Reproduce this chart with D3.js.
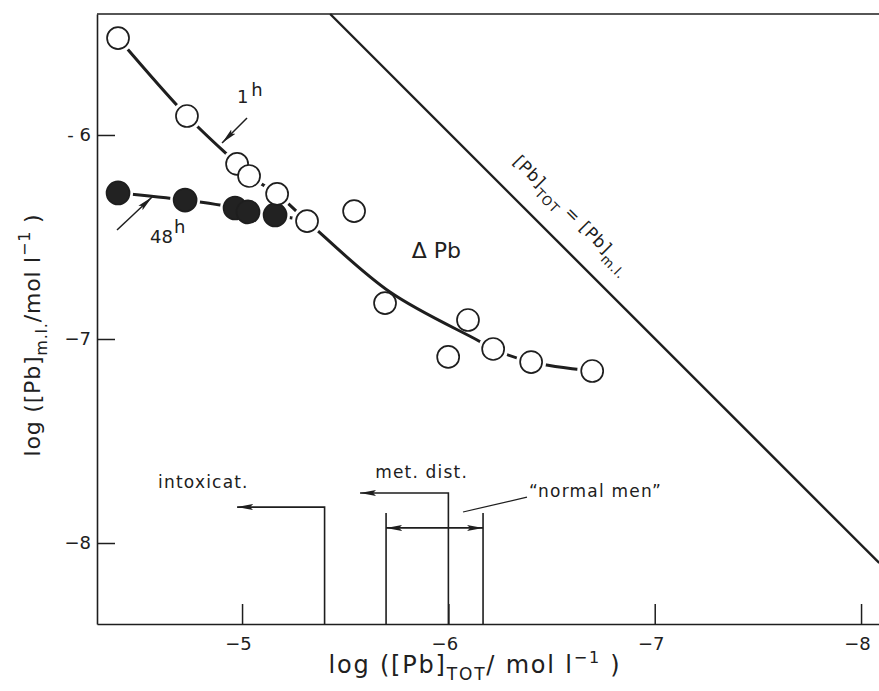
<!DOCTYPE html>
<html><head><meta charset="utf-8">
<script src="https://cdn.jsdelivr.net/npm/d3@7"></script>
<style>
body{margin:0;background:#fff}
text{font-family:"DejaVu Sans",sans-serif;fill:#202020}
</style>
</head><body>
<svg id="chart" width="879" height="691"></svg>
<script>
// ---- data ----
const xTicks = [-5, -6, -7, -8];
const xTickLabels = ["\u22125", "\u22126", "\u22127", "\u22128"];
const yTicks = [-6, -7, -8];
const yTickLabels = ["- 6", "\u22127", "\u22128"];

// 1 h (open circles)
const open1hX = [-4.399, -4.733, -4.976, -5.034, -5.170, -5.315, -5.543, -5.693, -6.095, -5.999, -6.217, -6.401, -6.697];
const open1hY = [-5.525, -5.907, -6.142, -6.201, -6.289, -6.422, -6.373, -6.824, -6.907, -7.088, -7.049, -7.113, -7.157];
// 48 h (filled circles)
const filled48hX = [-4.399, -4.724, -4.966, -5.029, -5.160];
const filled48hY = [-6.284, -6.319, -6.358, -6.377, -6.392];

// hand-drawn fit curves
const fit1hX = [-4.399, -4.733, -4.976, -5.034, -5.170, -5.315, -5.717, -6.139, -6.217, -6.401, -6.697];
const fit1hY = [-5.525, -5.907, -6.142, -6.201, -6.289, -6.422, -6.770, -7.005, -7.049, -7.113, -7.157];
const fit48hX = [-4.399, -4.724, -4.966, -5.029, -5.160, -5.315];
const fit48hY = [-6.284, -6.319, -6.358, -6.377, -6.392, -6.422];

// [Pb]TOT = [Pb]m.l. line
const identX = [-5.427, -8.088];
const identY = [-5.407, -8.098];

// clinical ranges (log [Pb]TOT)
const intoxicatLimit = -5.40;
const metDistLimit = -6.00;
const normalRange = [-5.698, -6.168];

// ---- chart ----
const svg = d3.select("#chart");
const x = d3.scaleLinear().domain([-4.297, -8.087]).range([97, 879]);
const y = d3.scaleLinear().domain([-5.407, -8.397]).range([14, 624]);
const ink = "#1e1e1e";
const yBottom = y.domain()[1];

// defs: arrowheads
const defs = svg.append("defs");
defs.append("marker").attr("id", "ah").attr("viewBox", "0 0 16 8")
  .attr("refX", 16).attr("refY", 4).attr("markerWidth", 16).attr("markerHeight", 8)
  .attr("markerUnits", "userSpaceOnUse").attr("orient", "auto-start-reverse")
  .append("path").attr("d", "M0,1 L16,4 L0,7 L3,4 Z").attr("fill", ink);

// axes
const xAxis = d3.axisBottom(x).tickValues(xTicks).tickSize(-20).tickSizeOuter(0)
  .tickPadding(13).tickFormat((d, i) => xTickLabels[i]);
const gx = svg.append("g").attr("transform", `translate(0,${y.range()[1]})`).call(xAxis);
const yAxis = d3.axisLeft(y).tickValues(yTicks).tickSize(-18).tickSizeOuter(0)
  .tickPadding(6).tickFormat((d, i) => yTickLabels[i]);
const gy = svg.append("g").attr("transform", `translate(${x.range()[0]},0)`).call(yAxis);
[gx, gy].forEach(g => {
  g.select(".domain").attr("stroke", ink).attr("stroke-width", 1.6);
  g.selectAll(".tick line").attr("stroke", ink).attr("stroke-width", 1.5);
  g.selectAll(".tick text").attr("font-size", 18).attr("font-family", "DejaVu Sans").attr("fill", "#202020");
});
gx.selectAll(".tick text").attr("dx", -4);
// top frame line
svg.append("line").attr("x1", x.range()[0]).attr("x2", x.range()[1])
  .attr("y1", y.range()[0]).attr("y2", y.range()[0])
  .attr("stroke", ink).attr("stroke-width", 1.6);

// identity line
svg.append("line")
  .attr("x1", x(identX[0])).attr("y1", y(identY[0]))
  .attr("x2", x(identX[1])).attr("y2", y(identY[1]))
  .attr("stroke", ink).attr("stroke-width", 2.4);

// diagonal label
const ang = Math.atan2(y(identY[1]) - y(identY[0]), x(identX[1]) - x(identX[0])) * 180 / Math.PI;
const dl = svg.append("text")
  .attr("transform", `translate(${x(-6.31)},${y(-6.135)}) rotate(${ang})`)
  .attr("font-size", 17).attr("letter-spacing", 0.8);
dl.append("tspan").text("[Pb]");
dl.append("tspan").attr("dy", 7).attr("font-size", 13).text("TOT");
dl.append("tspan").attr("dy", -7).text(" = [Pb]");
dl.append("tspan").attr("dy", 7).attr("font-size", 13).text("m.l.");

// fit curves
const line = d3.line().x(d => x(d[0])).y(d => y(d[1])).curve(d3.curveCatmullRom.alpha(0.5));
const fit1h = fit1hX.map((v, i) => [v, fit1hY[i]]);
const fit48h = fit48hX.map((v, i) => [v, fit48hY[i]]);
svg.append("path").attr("d", line(fit1h)).attr("fill", "none").attr("stroke", ink).attr("stroke-width", 3);
svg.append("path").attr("d", line(fit48h)).attr("fill", "none").attr("stroke", ink).attr("stroke-width", 3);

// points
const isNode = (px, py, fx, fy) => fx.some((v, i) => v === px && fy[i] === py);
const openPts = open1hX.map((v, i) => ({x: v, y: open1hY[i], halo: isNode(v, open1hY[i], fit1hX, fit1hY), fill: false}));
const fillPts = filled48hX.map((v, i) => ({x: v, y: filled48hY[i], halo: true, fill: true}));
const allPts = fillPts.concat(openPts);
svg.append("g").selectAll("circle").data(allPts.filter(d => d.halo)).join("circle")
  .attr("cx", d => x(d.x)).attr("cy", d => y(d.y)).attr("r", 15).attr("fill", "#fff");
svg.append("g").selectAll("circle").data(allPts).join("circle")
  .attr("cx", d => x(d.x)).attr("cy", d => y(d.y)).attr("r", d => d.fill ? 11.5 : 11)
  .attr("fill", d => d.fill ? "#222" : "#fff")
  .attr("stroke", ink).attr("stroke-width", 1.7);

// 1h / 48h annotations
svg.append("line").attr("x1", x(-5.024)).attr("y1", y(-5.917)).attr("x2", x(-4.903)).attr("y2", y(-6.039))
  .attr("stroke", ink).attr("stroke-width", 1.5).attr("marker-end", "url(#ah)");
const t1 = svg.append("text").attr("x", x(-4.975)).attr("y", y(-5.843)).attr("font-size", 18);
t1.append("tspan").text("1");
t1.append("tspan").attr("dx", 3).attr("dy", -7).text("h");
svg.append("line").attr("x1", x(-4.394)).attr("y1", y(-6.466)).attr("x2", x(-4.564)).attr("y2", y(-6.304))
  .attr("stroke", ink).attr("stroke-width", 1.5).attr("marker-end", "url(#ah)");
const t48 = svg.append("text").attr("x", x(-4.554)).attr("y", y(-6.529)).attr("font-size", 18);
t48.append("tspan").text("48");
t48.append("tspan").attr("dx", 1).attr("dy", -10).text("h");

// Delta Pb
svg.append("text").attr("x", x(-5.822)).attr("y", y(-6.603)).attr("font-size", 22).text("\u0394 Pb");

// clinical ranges
const seg = d3.line().x(d => x(d[0])).y(d => y(d[1]));
svg.append("path").attr("d", seg([[intoxicatLimit, yBottom], [intoxicatLimit, -7.824], [-4.976, -7.824]]))
  .attr("fill", "none").attr("stroke", ink).attr("stroke-width", 1.6).attr("marker-end", "url(#ah)");
svg.append("path").attr("d", seg([[metDistLimit, yBottom], [metDistLimit, -7.755], [-5.572, -7.755]]))
  .attr("fill", "none").attr("stroke", ink).attr("stroke-width", 1.6).attr("marker-end", "url(#ah)");
normalRange.forEach(v => {
  svg.append("line").attr("x1", x(v)).attr("x2", x(v)).attr("y1", y(yBottom)).attr("y2", y(-7.853))
    .attr("stroke", ink).attr("stroke-width", 1.6);
});
svg.append("line").attr("x1", x(normalRange[0])).attr("x2", x(normalRange[1]))
  .attr("y1", y(-7.926)).attr("y2", y(-7.926))
  .attr("stroke", ink).attr("stroke-width", 1.6)
  .attr("marker-start", "url(#ah)").attr("marker-end", "url(#ah)");
svg.append("line").attr("x1", x(-6.071)).attr("y1", y(-7.848)).attr("x2", x(-6.381)).attr("y2", y(-7.775))
  .attr("stroke", ink).attr("stroke-width", 1.2);

svg.append("text").attr("x", x(-4.593)).attr("y", y(-7.730)).attr("font-size", 17).attr("letter-spacing", 1.2).text("intoxicat.");
svg.append("text").attr("x", x(-5.645)).attr("y", y(-7.681)).attr("font-size", 17).attr("letter-spacing", 1.2).text("met. dist.");
svg.append("text").attr("x", x(-6.391)).attr("y", y(-7.775)).attr("font-size", 17).attr("letter-spacing", 1.2).text("\u201Cnormal men\u201D");

// axis titles
const xt = svg.append("text").attr("x", 475).attr("y", 673).attr("text-anchor", "middle").attr("font-size", 24).attr("letter-spacing", 1.8);
xt.append("tspan").text("log ([Pb]");
xt.append("tspan").attr("dy", 7).attr("font-size", 17).text("TOT");
xt.append("tspan").attr("dy", -7).text("/ mol  l");
xt.append("tspan").attr("dy", -10).attr("font-size", 16).text("\u22121");
xt.append("tspan").attr("dy", 10).text("  )");

const yt = svg.append("text").attr("transform", "translate(40,335) rotate(-90)").attr("text-anchor", "middle").attr("font-size", 22).attr("letter-spacing", 0.8);
yt.append("tspan").text("log ([Pb]");
yt.append("tspan").attr("dy", 7).attr("font-size", 16).text("m.l.");
yt.append("tspan").attr("dy", -7).text("/mol  l");
yt.append("tspan").attr("dy", -10).attr("font-size", 16).text("\u22121");
yt.append("tspan").attr("dy", 10).text(" )");
</script>
</body></html>
